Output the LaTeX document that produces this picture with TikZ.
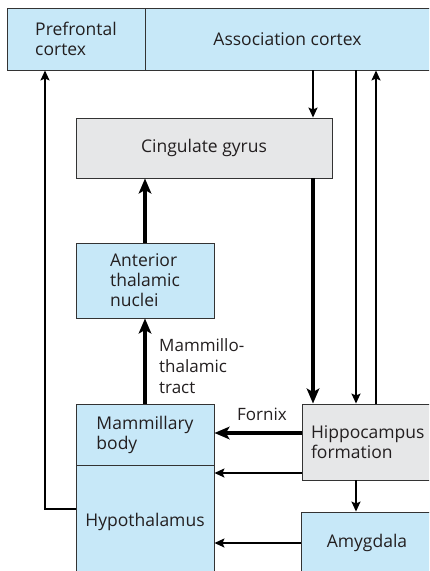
\documentclass[tikz,border=0pt]{standalone}
\usepackage{fontspec}
\setmainfont{Open Sans}
\usetikzlibrary{arrows.meta,calc}
\definecolor{lblue}{HTML}{C7E8F8}
\definecolor{lgray}{HTML}{E6E7E8}
\definecolor{bord}{HTML}{333333}
\definecolor{txt}{HTML}{231F20}
\tikzset{
 box/.style={draw=bord,line width=0.9pt,inner sep=0pt,align=left,text=txt,font=\fontsize{17.5}{20}\selectfont},
 bbox/.style={box,fill=lblue},
 gbox/.style={box,fill=lgray},
 thinarr/.style={line width=1.6pt,-{Stealth[length=10pt,width=9pt,inset=2pt]}},
 thickarr/.style={line width=3.8pt,-{Stealth[length=15pt,width=12.5pt,inset=3.5pt]}},
 lab/.style={font=\fontsize{17}{21}\selectfont,text=txt,align=left,inner sep=0pt},
}
\begin{document}
\begin{tikzpicture}[x=1pt,y=-1pt]
\useasboundingbox (0,0) rectangle (429,571);
\clip (0,0) rectangle (429,571);
\node[bbox,minimum width=138pt,minimum height=62pt] (pfc) at (76,39) {Prefrontal\\cortex};
\node[bbox,minimum width=285pt,minimum height=62pt] (asc) at (287.5,39) {Association cortex};
\node[gbox,minimum width=256pt,minimum height=60pt] (cing) at (204,148) {Cingulate gyrus};
\node[bbox,minimum width=138pt,minimum height=75pt] (ant) at (145,280.5) {Anterior\\thalamic\\nuclei};
\node[bbox,minimum width=138pt,minimum height=61pt] (mam) at (145,434.5) {Mammillary\\body};
\node[bbox,minimum width=138pt,minimum height=114pt] (hyp) at (145,522) {Hypothalamus};
\node[gbox,minimum width=132pt,minimum height=76pt,text width=114pt] (hip) at (368,442) {Hippocampus\\formation};
\node[bbox,minimum width=132pt,minimum height=62pt] (amy) at (367,543) {Amygdala};
\node[lab,anchor=west] (mtt) at (159,366) {Mammillo-\\thalamic\\tract};
\node[lab] (fx) at (262,414) {Fornix};
\coordinate (xa) at (313,0);
\coordinate (xb) at (356,0);
\coordinate (xc) at (376,0);
\coordinate (xl) at (45,0);
\coordinate (yf) at (0,433);
\coordinate (yh) at (0,473);
\coordinate (yl) at (0,509);
\draw[thinarr] (asc.south -| xa) -- (cing.north -| xa);
\draw[thinarr] (asc.south -| xb) -- (hip.north -| xb);
\draw[thinarr] (hip.north -| xc) -- (asc.south -| xc);
\draw[thickarr] (cing.south -| xa) -- (hip.north -| xa);
\draw[thickarr] (ant.north) -- (cing.south -| ant.north);
\draw[thickarr] (mam.north) -- (ant.south);
\draw[thickarr] (hip.west |- yf) -- (mam.east |- yf);
\draw[thinarr] (hip.west |- yh) -- (hyp.east |- yh);
\draw[thinarr] (hip.south -| xb) -- (amy.north -| xb);
\draw[thinarr] (amy.west) -- (amy.west -| hyp.east);
\draw[thinarr] (hyp.west |- yl) -| (pfc.south -| xl);
\end{tikzpicture}
\end{document}
